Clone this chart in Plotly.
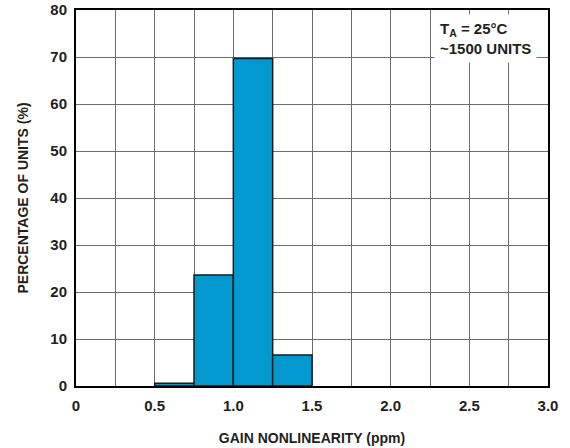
import plotly.graph_objects as go

bin_centers = [0.625, 0.875, 1.125, 1.375]
percent = [0.6, 23.6, 69.7, 6.6]
x_ticks = [0, 0.5, 1.0, 1.5, 2.0, 2.5, 3.0]
x_labels = ['0', '0.5', '1.0', '1.5', '2.0', '2.5', '3.0']
y_ticks = [0, 10, 20, 30, 40, 50, 60, 70, 80]

font = 'Liberation Sans, Arial, sans-serif'

bars = go.Bar(x=bin_centers, y=percent, width=0.25,
              marker={'color': '#0399D0', 'line': {'color': '#1a1a1a', 'width': 1.5}})

fig = go.Figure(data=[bars])
fig.update_layout(
    width=570, height=448,
    margin=dict(l=76, r=22, t=10, b=62, autoexpand=False),
    paper_bgcolor='white', plot_bgcolor='white',
    showlegend=False,
    font=dict(family=font, size=14, color='#231f20'),
    annotations=[dict(
        x=0.977, y=0.99, xref='paper', yref='paper', xanchor='right', yanchor='top',
        text='<b>T<sub>A</sub> = 25°C<br>~1500 UNITS</b>', align='left',
        showarrow=False, bgcolor='white', borderpad=5,
        font=dict(family=font, size=15, color='#231f20'))]
)
fig.update_xaxes(
    range=[0, 3.0], tickvals=x_ticks, ticktext=[f'<b>{t}</b>' for t in x_labels],
    tickfont=dict(family=font, size=15), ticklabelstandoff=5,
    showgrid=True, gridcolor='#6d6d6d', gridwidth=1,
    minor=dict(dtick=0.25, tick0=0, showgrid=True, gridcolor='#6d6d6d', gridwidth=1),
    showline=True, linecolor='black', linewidth=2, mirror=True,
    ticks='', ticklen=0, zeroline=False, automargin=False,
    title=dict(text='<b>GAIN NONLINEARITY (ppm)</b>', standoff=20,
               font=dict(family=font, size=14)),
)
fig.update_yaxes(
    range=[0, 80], tickvals=y_ticks, ticktext=[f'<b>{t}</b>' for t in y_ticks],
    tickfont=dict(family=font, size=15), ticklabelstandoff=4,
    showgrid=True, gridcolor='#6d6d6d', gridwidth=1,
    showline=True, linecolor='black', linewidth=2, mirror=True,
    ticks='', zeroline=False, automargin=False,
    title=dict(text='<b>PERCENTAGE OF UNITS (%)</b>', standoff=18,
               font=dict(family=font, size=14)),
)

fig.write_html('out.html', config={'displayModeBar': False},
               post_script="document.body.style.margin='0';")
